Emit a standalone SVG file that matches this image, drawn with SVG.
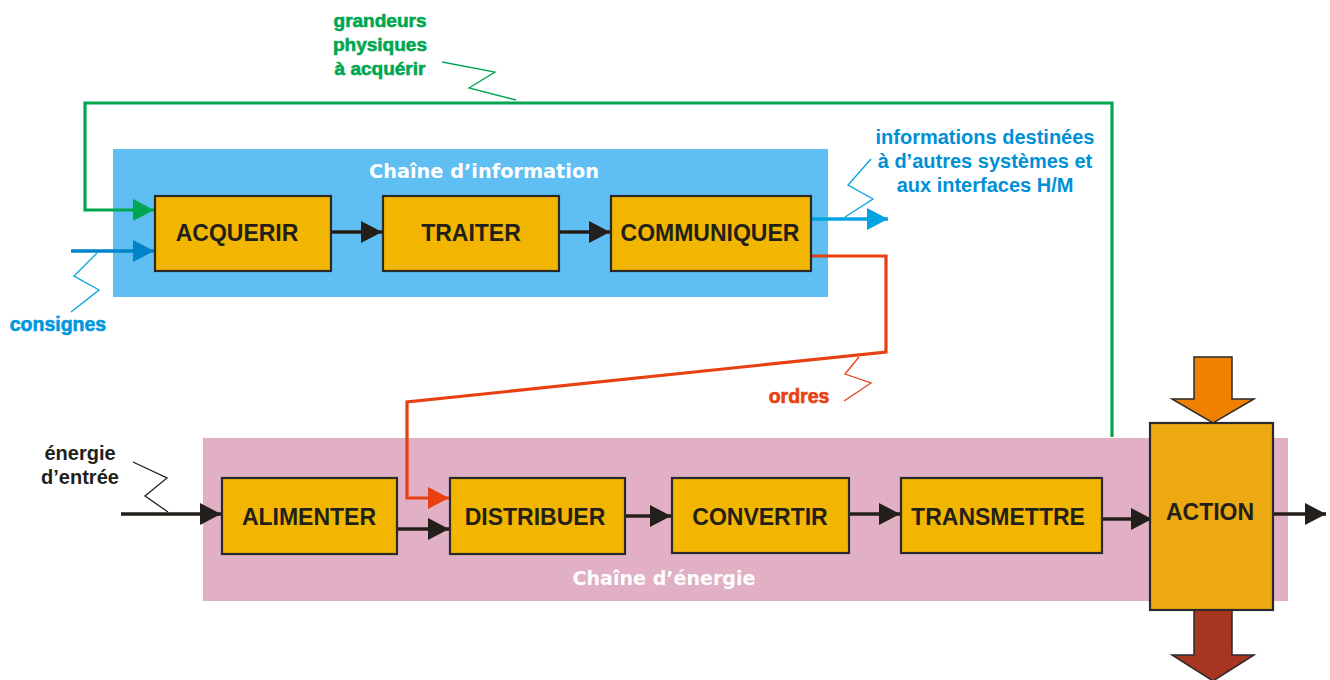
<svg xmlns="http://www.w3.org/2000/svg" width="1330" height="680" viewBox="0 0 1330 680">
<style>
.box{fill:#f2b600;stroke:#2a2a2a;stroke-width:2.2}
.lbl{font-family:"Liberation Sans",Arial,sans-serif;font-weight:bold;font-size:23px;fill:#231f1a;text-anchor:middle}
.chain{font-family:"DejaVu Sans","Liberation Sans",sans-serif;font-weight:bold;font-size:20px;fill:#ffffff;text-anchor:middle}
.note{font-family:"Liberation Sans",Arial,sans-serif;font-weight:bold;text-anchor:middle}
.heavy{stroke-width:0.6}
.zz{fill:none;stroke-width:1.3}
.ln{fill:none;stroke-linejoin:miter}
</style>
<defs>
<marker id="ak" markerUnits="userSpaceOnUse" markerWidth="22" markerHeight="24" refX="21" refY="11" orient="auto"><path d="M0,0 L21,11 L0,22 z" fill="#231f1a"/></marker>
<marker id="ag" markerUnits="userSpaceOnUse" markerWidth="22" markerHeight="24" refX="21" refY="11" orient="auto"><path d="M0,0 L21,11 L0,22 z" fill="#00a650"/></marker>
<marker id="ab" markerUnits="userSpaceOnUse" markerWidth="22" markerHeight="24" refX="21" refY="11" orient="auto"><path d="M0,0 L21,11 L0,22 z" fill="#0082c8"/></marker>
<marker id="al" markerUnits="userSpaceOnUse" markerWidth="22" markerHeight="24" refX="21" refY="11" orient="auto"><path d="M0,0 L21,11 L0,22 z" fill="#00a3e0"/></marker>
<marker id="ao" markerUnits="userSpaceOnUse" markerWidth="22" markerHeight="24" refX="21" refY="11" orient="auto"><path d="M0,0 L21,11 L0,22 z" fill="#e84010"/></marker>
</defs>

<g id="panels">
<rect id="chaine-information" x="113" y="149" width="715" height="148" fill="#60bff2"/>
<rect id="chaine-energie" x="203" y="438" width="1085" height="163" fill="#e1b0c4"/>
<text class="chain" x="484" y="178" textLength="230" lengthAdjust="spacingAndGlyphs">Chaîne d’information</text>
<text class="chain" x="664" y="585" textLength="183" lengthAdjust="spacingAndGlyphs">Chaîne d’énergie</text>
</g>

<g id="connectors">
<polyline class="ln" points="1112,437 1112,103 85,103 85,210 154,210" stroke="#00a650" stroke-width="3.2" marker-end="url(#ag)"/>
<line x1="71" y1="251" x2="154" y2="251" stroke="#0082c8" stroke-width="3.5" marker-end="url(#ab)"/>
<line x1="331" y1="232" x2="382" y2="232" stroke="#231f1a" stroke-width="3.5" marker-end="url(#ak)"/>
<line x1="559" y1="232" x2="610" y2="232" stroke="#231f1a" stroke-width="3.5" marker-end="url(#ak)"/>
<line x1="811" y1="219" x2="888" y2="219" stroke="#00a3e0" stroke-width="3.5" marker-end="url(#al)"/>
<polyline class="ln" points="811,256 886,256 886,352 407,402 407,498 449,498" stroke="#e84010" stroke-width="3.2" marker-end="url(#ao)"/>
<line x1="121" y1="514" x2="221" y2="514" stroke="#231f1a" stroke-width="3.5" marker-end="url(#ak)"/>
<line x1="397" y1="529" x2="449" y2="529" stroke="#231f1a" stroke-width="3.5" marker-end="url(#ak)"/>
<line x1="625" y1="516" x2="671" y2="516" stroke="#231f1a" stroke-width="3.5" marker-end="url(#ak)"/>
<line x1="849" y1="514" x2="900" y2="514" stroke="#231f1a" stroke-width="3.5" marker-end="url(#ak)"/>
<line x1="1102" y1="519" x2="1152" y2="519" stroke="#231f1a" stroke-width="3.5" marker-end="url(#ak)"/>
<line x1="1273" y1="514" x2="1326" y2="514" stroke="#231f1a" stroke-width="3.5" marker-end="url(#ak)"/>
<polygon id="arrow-in" points="1194,357 1232,357 1232,399 1254,399 1213,423 1172,399 1194,399" fill="#f08000" stroke="#2a2a2a" stroke-width="1.5"/>
<polygon id="arrow-out" points="1194,610 1232,610 1232,655 1254,655 1213,681 1172,655 1194,655" fill="#a83520" stroke="#2a2a2a" stroke-width="1.5"/>
</g>

<g id="zigzags">
<polyline class="zz" points="442,62 495,72 469,88 516,100" stroke="#00a650"/>
<polyline class="zz" points="97,253 74,276 99,290 71,312" stroke="#00a3e0"/>
<polyline class="zz" points="871,159 848,185 873,199 845,217" stroke="#00a3e0"/>
<polyline class="zz" points="859,357 845,374 871,383 844,401" stroke="#e84010"/>
<polyline class="zz" points="133,462 167,478 145,496 168,512" stroke="#231f1a"/>
</g>

<g id="acquerir"><rect class="box" x="155" y="196" width="176" height="75"/><text class="lbl" x="237" y="241">ACQUERIR</text></g>
<g id="traiter"><rect class="box" x="383" y="196" width="176" height="75"/><text class="lbl" x="471" y="241">TRAITER</text></g>
<g id="communiquer"><rect class="box" x="611" y="196" width="200" height="75"/><text class="lbl" x="710" y="241">COMMUNIQUER</text></g>
<g id="alimenter"><rect class="box" x="222" y="478" width="175" height="76"/><text class="lbl" x="309" y="525">ALIMENTER</text></g>
<g id="distribuer"><rect class="box" x="450" y="478" width="175" height="76"/><text class="lbl" x="535" y="525">DISTRIBUER</text></g>
<g id="convertir"><rect class="box" x="672" y="478" width="177" height="75"/><text class="lbl" x="760" y="525">CONVERTIR</text></g>
<g id="transmettre"><rect class="box" x="901" y="478" width="201" height="75"/><text class="lbl" x="998" y="525">TRANSMETTRE</text></g>
<g id="action"><rect x="1150" y="423" width="123" height="187" fill="#eca912" stroke="#2a2a2a" stroke-width="2.2"/><text class="lbl" x="1210" y="520">ACTION</text></g>

<g id="labels">
<text class="note heavy" font-size="19" fill="#00a650" stroke="#00a650"><tspan x="380" y="27">grandeurs</tspan><tspan x="380" y="51">physiques</tspan><tspan x="380" y="75">à acquérir</tspan></text>
<text class="note heavy" font-size="19.5" fill="#0098e0" stroke="#0098e0" x="58" y="331">consignes</text>
<text class="note" font-size="20" fill="#0090d8"><tspan x="985" y="144">informations destinées</tspan><tspan x="985" y="168">à d’autres systèmes et</tspan><tspan x="985" y="192">aux interfaces H/M</tspan></text>
<text class="note heavy" font-size="19.5" fill="#e84010" stroke="#e84010" x="799" y="403">ordres</text>
<text class="note" font-size="20" fill="#231f1a"><tspan x="80" y="460">énergie</tspan><tspan x="80" y="484">d’entrée</tspan></text>
</g>
</svg>
